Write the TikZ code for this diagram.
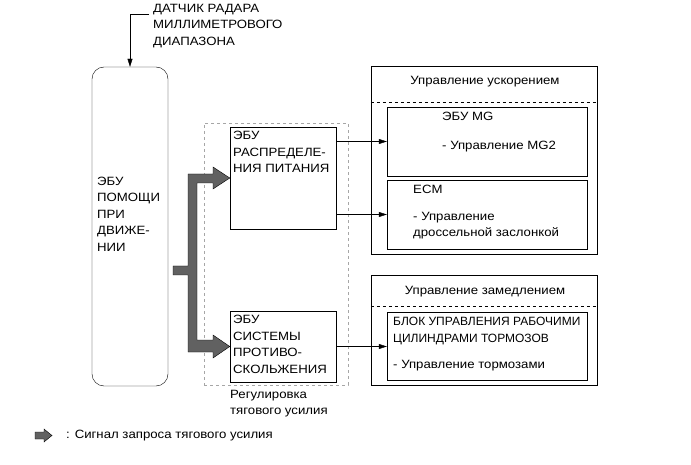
\documentclass[tikz,border=0pt]{standalone}
\usepackage{fontspec}
\setmainfont[FakeStretch=1.1]{Liberation Sans}
\newfontfamily\narrowfont{Liberation Sans}
\usetikzlibrary{arrows.meta}

\tikzset{
  box/.style={draw, thin, inner sep=0pt},
  txt/.style={inner sep=0pt, align=left, font=\fontsize{12}{16.5}\selectfont},
  arr/.style={-{Triangle[length=8pt,width=5pt]}, thin},
  fatarrow/.style={draw=black, thin, fill=black!62}
}

\begin{document}
\begin{tikzpicture}[x=1pt,y=-1pt]
\useasboundingbox (0,0) rectangle (691,465);

% Main ECU
\node[box, rounded corners=12pt, minimum width=76pt, minimum height=319pt] (assist) at (130,226.5) {};
\node[txt, anchor=west] (assisttxt) at (97,214) {ЭБУ\\ПОМОЩИ\\ПРИ\\ДВИЖЕ-\\НИИ};

% Radar sensor
\coordinate (sens) at (149,14);
\node[txt, anchor=west] (senstxt) at (153,26) {ДАТЧИК РАДАРА\\МИЛЛИМЕТРОВОГО\\ДИАПАЗОНА};
\draw[arr] (sens) -| (assist.north);

% Traction control group
\node[box, dashed, draw=gray!70, minimum width=144pt, minimum height=262pt] (trc) at (276,254) {};
\node[txt, anchor=north west] (trctxt) at (230,390) {Регулировка\\тягового усилия};

\node[box, minimum width=106pt, minimum height=102pt] (pwr) at (283,178) {};
\node[txt, anchor=north west] (pwrtxt) at (233,131) {ЭБУ\\РАСПРЕДЕЛЕ-\\НИЯ ПИТАНИЯ};

\node[box, minimum width=106pt, minimum height=71pt] (abs) at (283,346.5) {};
\node[txt, anchor=north west] (abstxt) at (233,315) {ЭБУ\\СИСТЕМЫ\\ПРОТИВО-\\СКОЛЬЖЕНИЯ};

% Acceleration control
\node[box, minimum width=226pt, minimum height=188pt] (accel) at (484,160) {};
\node[txt] (acceltxt) at (485,82) {Управление ускорением};
\draw[dashed] (accel.west |- 0,102) -- (accel.east |- 0,102);

\node[box, minimum width=200pt, minimum height=69pt] (mg) at (487,141.5) {};
\node[txt, anchor=north west] (mgtxt) at (442,112) {ЭБУ MG\\[12pt]- Управление MG2};

\node[box, minimum width=200pt, minimum height=69pt] (ecm) at (487,214.5) {};
\node[txt, anchor=north west] (ecmtxt) at (413,185) {ECM\\[10pt]- Управление\\дроссельной заслонкой};

% Deceleration control
\node[box, minimum width=226pt, minimum height=110pt] (decel) at (484,330) {};
\node[txt] (deceltxt) at (485,292) {Управление замедлением};
\draw[dashed] (decel.west |- 0,306) -- (decel.east |- 0,306);

\node[box, minimum width=200pt, minimum height=68pt] (brk) at (487,346) {};
\node[txt, anchor=north west] (brktxt) at (393,317) {{\narrowfont БЛОК УПРАВЛЕНИЯ РАБОЧИМИ}\\{\narrowfont ЦИЛИНДРАМИ ТОРМОЗОВ}\\[10pt]- Управление тормозами};

% Signal arrows
\draw[arr] (mg.west -| pwr.east) -- (mg.west);
\draw[arr] (ecm.west -| pwr.east) -- (ecm.west);
\draw[arr] (abs.east) -- (abs.east -| brk.west);

% Traction request arrow
\draw[fatarrow] (173,266) -- (188,266) -- (188,174) -- (213,174) -- (213,167)
  -- (pwr.west |- 0,178) -- (213,189) -- (213,183) -- (197,183) -- (197,340) -- (213,340)
  -- (213,335) -- (abs.west) -- (213,358) -- (213,352) -- (188,352) -- (188,275)
  -- (173,275) -- cycle;

% Legend
\draw[fatarrow] (35,432) -- (44,432) -- (44,429) -- (52,435.5) -- (44,442) -- (44,439) -- (35,439) -- cycle;
\node[txt, anchor=west] (legtxt) at (66,435.5) {: Сигнал запроса тягового усилия};

\end{tikzpicture}
\end{document}
